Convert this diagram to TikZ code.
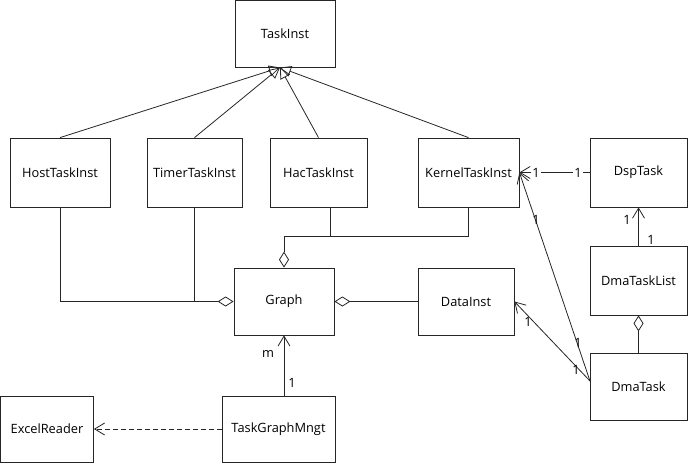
\documentclass[tikz,border=0pt]{standalone}
\usepackage{fontspec}
\setmainfont{Open Sans}
\usetikzlibrary{arrows.meta}
\begin{document}
\begin{tikzpicture}[x=1pt,y=-1pt,
  every node/.style={font=\fontsize{12.8}{15}\selectfont},
  cls/.style={draw=black!85, line width=0.8pt, fill=white, minimum height=67pt, inner sep=0pt},
  ln/.style={draw=black!85, line width=0.8pt},
  inh/.style={ln, -{Triangle[open,length=11pt,width=11pt]}},
  agg/.style={ln, -{Diamond[open,length=16pt,width=10pt]}},
  nav/.style={ln, -{Straight Barb[length=10pt,width=12pt]}},
  dep/.style={nav, dash pattern=on 5pt off 3pt},
  mult/.style={inner sep=0pt}
]
\useasboundingbox (0,0) rectangle (688,464);
% classes
\node[cls, minimum width=100pt] (taskinst) at (285,34) {TaskInst};
\node[cls, minimum width=100pt, minimum height=69pt] (host) at (60,172.5) {HostTaskInst};
\node[cls, minimum width=95pt, minimum height=69pt] (timer) at (194.5,172.5) {TimerTaskInst};
\node[cls, minimum width=97pt, minimum height=69pt] (hac) at (318.5,172.5) {HacTaskInst};
\node[cls, minimum width=101pt, minimum height=69pt] (kernel) at (468.5,172.5) {KernelTaskInst};
\node[cls, minimum width=97pt, minimum height=69pt] (dsp) at (638.5,172.5) {DspTask};
\node[cls, minimum width=97pt, minimum height=69pt] (dmalist) at (638.5,280.5) {DmaTaskList};
\node[cls, minimum width=100pt] (graph) at (284,301.5) {Graph};
\node[cls, minimum width=96pt] (data) at (466,301.5) {DataInst};
\node[cls, minimum width=93pt, minimum height=66pt] (excel) at (47,429) {ExcelReader};
\node[cls, minimum width=113pt, minimum height=66pt] (mngt) at (278.5,429) {TaskGraphMngt};
\node[cls, minimum width=97pt] (dmatask) at (638.5,386.5) {DmaTask};

% inheritance
\coordinate (apex) at (280,67.5);
\draw[inh] (host.north) -- (apex);
\draw[inh] (timer.north) -- (apex);
\draw[inh] (hac.north) -- (apex);
\draw[inh] (kernel.north) -- (apex);

% aggregation to graph
\draw[agg] (host.south) |- (graph.west);
\draw[ln] (timer.south) -- (timer.south |- graph.west);
\draw[agg] (kernel.south) |- (graph.north |- 0,236) -- (graph.north);
\draw[ln] (hac.south -| 330,0) -- (330,236);
\draw[agg] (data.west) -- (graph.east);

% graph mngt
\draw[nav] (mngt.north -| graph.north) -- (graph.south);
\node[mult] at (268,354) {m};
\node[mult] at (292,383) {1};
\draw[dep] (mngt.west) -- (excel.east);

% kernel - dsp
\draw[nav] (dsp.west) -- (kernel.east);
\node[mult, fill=white, inner xsep=1pt] at (536,173) {1};
\node[mult, fill=white, inner xsep=1pt] at (578,173) {1};

% dma task
\coordinate (dmajoin) at (590,381);
\draw[nav] (dmajoin) -- (kernel.east);
\draw[nav] (dmajoin) -- (data.east);
\node[mult] at (536,220) {1};
\node[mult] at (528,322) {1};
\node[mult] at (578,343) {1};
\node[mult] at (576,370) {1};

% dsp - dmalist
\draw[nav] (dmalist.north) -- (dsp.south);
\node[mult] at (627,220) {1};
\node[mult] at (651,240) {1};
\draw[agg] (dmatask.north) -- (dmalist.south);
\end{tikzpicture}
\end{document}
